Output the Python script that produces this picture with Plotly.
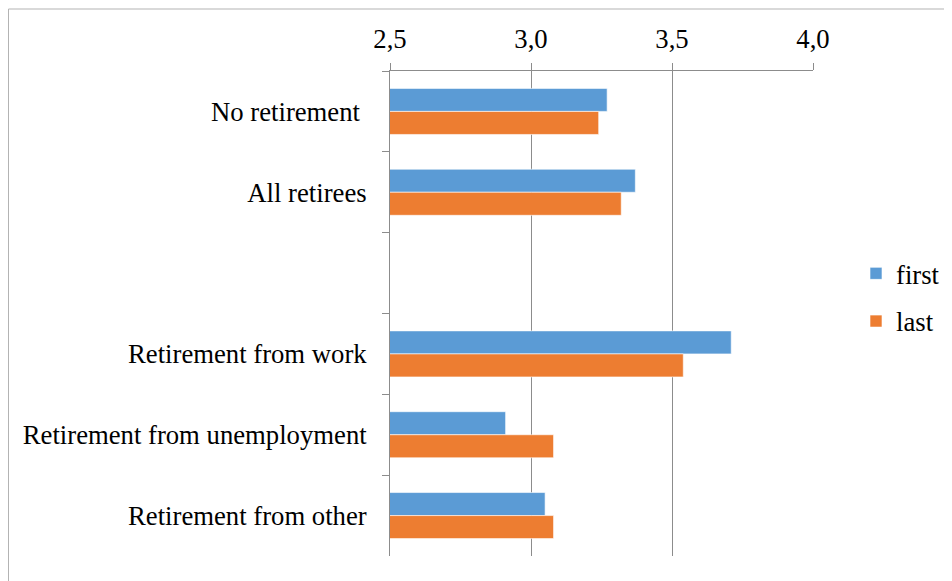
import plotly.graph_objects as go

categories = ["No retirement\u00a0", "All retirees", "\u00a0", "Retirement from work",
              "Retirement from unemployment", "Retirement from other"]
first_vals = [3.27, 3.37, None, 3.71, 2.91, 3.05]
last_vals = [3.24, 3.32, None, 3.54, 3.08, 3.08]
x_ticks = [2.5, 3.0, 3.5, 4.0]

BLUE = "#5B9BD5"
ORANGE = "#ED7D31"
GRID = "#8c8c8c"
FONT = "Times New Roman, Liberation Serif, DejaVu Serif, serif"
FS = 26.7

# page has an 8px body margin; figure sized so the plot area lands where the reference has it
W, H = 944, 573
L, R, T, B = 382, 139, 63, 25
PW, PH = W - L - R, H - T - B

fig = go.Figure()
fig.add_trace(go.Bar(y=categories, x=first_vals, orientation="h", name="first",
                     marker=dict(color=BLUE, line=dict(color="rgba(255,255,255,0.6)", width=1)),
                     legendgroup="a"))
fig.add_trace(go.Bar(y=categories, x=last_vals, orientation="h", name="last",
                     marker=dict(color=ORANGE, line=dict(color="rgba(255,255,255,0.6)", width=1)),
                     legendgroup="b"))

fig.update_layout(
    width=W, height=H,
    margin=dict(l=L, r=R, t=T, b=B, autoexpand=False),
    paper_bgcolor="white", plot_bgcolor="white",
    barmode="group", bargap=0.43, bargroupgap=0,
    separators=",.",
    font=dict(family=FONT, size=FS, color="black"),
    showlegend=True,
    legend=dict(x=(856 - 8 - L) / PW, xanchor="left",
                y=(H - B - (297.5 - 8)) / PH, yanchor="middle",
                traceorder="grouped", tracegroupgap=10,
                font=dict(family=FONT, size=FS, color="black"),
                itemwidth=30, bgcolor="rgba(0,0,0,0)"),
    xaxis=dict(side="top", range=[2.5, 4.0], tickvals=x_ticks, tickformat=".1f",
               showgrid=True, gridcolor=GRID, gridwidth=1,
               showline=True, linecolor=GRID, linewidth=1,
               ticks="outside", ticklen=7, tickcolor=GRID, ticklabelstandoff=4,
               zeroline=False, tickfont=dict(family=FONT, size=FS, color="black"),
               fixedrange=True),
    yaxis=dict(type="category", autorange="reversed",
               showline=True, linecolor=GRID, linewidth=1,
               ticks="outside", tickson="boundaries", ticklen=7, tickcolor=GRID,
               showgrid=False, ticklabelstandoff=17,
               tickfont=dict(family=FONT, size=FS, color="black")),
    shapes=[dict(type="rect", xref="paper", yref="paper",
                 x0=(0.5 - L) / PW, x1=2.0, y0=-1.0, y1=(H - B - 1) / PH,
                 line=dict(color="#b3b3b3", width=1), layer="below")],
)

fig.write_html("out.html")
